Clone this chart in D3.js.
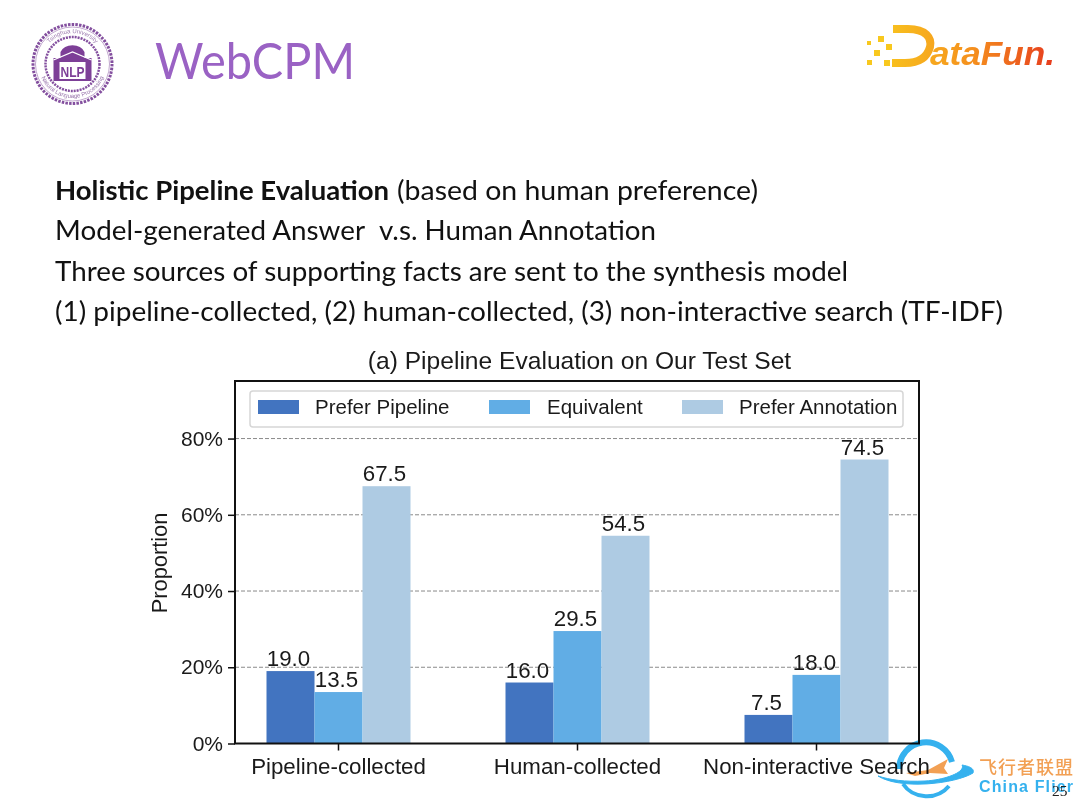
<!DOCTYPE html>
<html><head><meta charset="utf-8">
<script src="https://cdn.jsdelivr.net/npm/d3@7"></script>
<style>html,body{margin:0;padding:0;background:#fff}svg{display:block}</style></head>
<body><svg id="c" width="1080" height="810"></svg>
<script>
const categories = ["Pipeline-collected","Human-collected","Non-interactive Search"];
const seriesNames = ["Prefer Pipeline","Equivalent","Prefer Annotation"];
const preferPipeline = [19.0,16.0,7.5];
const equivalent = [13.5,29.5,18.0];
const preferAnnotation = [67.5,54.5,74.5];
const seriesColors = ["#4274c0","#61ade5","#aecbe3"];
const yTicks = [0,20,40,60,80];
const bodyRuns = [
 {text:"Holistic Pipeline Evaluation",bold:true,x:55,w:334,line:0},
 {text:"(based on human preference)",bold:false,x:397,w:361,line:0},
 {text:"Model-generated Answer",bold:false,x:55,w:310,line:1},
 {text:"v.s. Human Annotation",bold:false,x:379,w:277,line:1},
 {text:"Three sources of supporting facts are sent to the synthesis model",bold:false,x:55,w:793,line:2},
 {text:"(1) pipeline-collected, (2) human-collected, (3) non-interactive search (TF-IDF)",bold:false,x:55,w:948,line:3}
];
const allSeries = [preferPipeline,equivalent,preferAnnotation];
const svg = d3.select("#c");
const AR = "'Liberation Sans',Arial,sans-serif", OS = "Lato,'Open Sans',sans-serif";

// header
svg.append("text").attr("x",155).attr("y",79).attr("font-family",OS).attr("font-size",51).attr("fill","#9a62c4").attr("textLength",200).attr("lengthAdjust","spacingAndGlyphs").text("WebCPM");
// seal
const seal = svg.append("g").attr("transform","translate(72.5,64)").attr("fill","none").attr("stroke","#84509f");
seal.append("circle").attr("r",39.5).attr("stroke-width",3).attr("stroke-dasharray","2.5 1.2");
seal.append("circle").attr("r",27).attr("stroke-width",2.5).attr("stroke-dasharray","2 1");
seal.append("circle").attr("r",37).attr("stroke-width",.5);
const defs=svg.append("defs");
defs.append("path").attr("id","arcTop").attr("d","M-31,0A31,31 0 0 1 31,0");
defs.append("path").attr("id","arcBot").attr("d","M-34,0A34,34 0 0 0 34,0");
seal.append("text").attr("font-family",AR).attr("font-size",6).attr("fill","#9a78ad").attr("stroke","none").attr("text-anchor","middle").append("textPath").attr("href","#arcTop").attr("startOffset","50%").text("Tsinghua University");
seal.append("text").attr("font-family",AR).attr("font-size",6).attr("fill","#9a78ad").attr("stroke","none").attr("text-anchor","middle").append("textPath").attr("href","#arcBot").attr("startOffset","50%").text("Natural Language Processing");
seal.append("path").attr("d","M-12,-12A13,11 0 0 1 12,-12L12,-6L19,-6L19,17L-19,17L-19,-6L-12,-6Z").attr("fill","#7d3f97").attr("stroke","none");
seal.append("rect").attr("x",-13).attr("y",-2).attr("width",26).attr("height",17).attr("fill","#fff").attr("stroke","none");
seal.append("text").attr("y",13).attr("text-anchor","middle").attr("font-family",AR).attr("font-weight",700).attr("font-size",15).attr("fill","#7d3f97").attr("stroke","none").attr("textLength",24).attr("lengthAdjust","spacingAndGlyphs").text("NLP");
seal.append("path").attr("d","M-19,-4L0,-12L19,-4").attr("stroke","#fff").attr("stroke-width",1.2);

// DataFun logo
const df = defs.append("linearGradient").attr("id","dfg").attr("gradientUnits","userSpaceOnUse").attr("x1",890).attr("x2",1055).attr("y1",0).attr("y2",0);
[["0%","#f8c01e"],["50%","#f5901e"],["100%","#e63a1e"]].forEach(s=>df.append("stop").attr("offset",s[0]).attr("stop-color",s[1]));
svg.append("path").attr("d","M893,29L908,29C926,29 932,38 930,47C927,58 918,63 905,63L892,63").attr("fill","none").attr("stroke","url(#dfg)").attr("stroke-width",8);
svg.append("text").attr("x",930).attr("y",65).attr("font-family",AR).attr("font-weight",700).attr("font-style","italic").attr("font-size",34).attr("fill","url(#dfg)").attr("textLength",125).attr("lengthAdjust","spacingAndGlyphs").text("ataFun.");
svg.append("g").attr("fill","#f8c81e").selectAll("rect").data([[867,41,4],[878,36,6],[886,44,6],[874,50,6],[867,60,5],[884,60,6]]).join("rect")
 .attr("x",d=>d[0]).attr("y",d=>d[1]).attr("width",d=>d[2]).attr("height",d=>d[2]);

// body text
const baselines=[200,240,281,321];
svg.append("g").selectAll("text").data(bodyRuns).join("text").attr("x",d=>d.x).attr("y",d=>baselines[d.line]).attr("font-family",OS).attr("font-size",27).attr("fill","#111").attr("font-weight",d=>d.bold?700:400).attr("textLength",d=>d.w).attr("lengthAdjust","spacingAndGlyphs").text(d=>d.text);

// chart
const L=235,R=919,T=381,B=743.5;
const y=d3.scaleLinear().domain([0,95.1]).range([B,T]);
const x0=d3.scaleBand().domain(categories).range([219,936]).paddingInner(.3975).paddingOuter(.19875);
const x1=d3.scaleBand().domain(seriesNames).range([0,x0.bandwidth()]);
svg.append("text").attr("x",579.5).attr("y",369).attr("text-anchor","middle").attr("font-family",AR).attr("font-size",24.6).attr("fill","#1a1a1a").text("(a) Pipeline Evaluation on Our Test Set");
svg.append("g").selectAll("line").data(yTicks.slice(1)).join("line").attr("x1",L).attr("x2",R).attr("y1",d=>y(d)).attr("y2",d=>y(d)).attr("stroke","#8a8a8a").attr("stroke-width",1).attr("stroke-dasharray","4 2");
seriesNames.forEach((s,i)=>{
 const g=svg.append("g");
 const rows=categories.map((c,j)=>({c,v:allSeries[i][j]}));
 g.selectAll("rect").data(rows).join("rect").attr("x",d=>x0(d.c)+x1(s)).attr("width",x1.bandwidth()).attr("y",d=>y(d.v)).attr("height",d=>B-y(d.v)).attr("fill",seriesColors[i]);
 g.selectAll("text").data(rows).join("text").attr("x",d=>x0(d.c)+x1(s)+x1.bandwidth()/2-2).attr("y",d=>y(d.v)-5).attr("text-anchor","middle").attr("font-family",AR).attr("font-size",22.3).attr("fill","#1a1a1a").text(d=>d.v.toFixed(1));
});
svg.append("rect").attr("x",L).attr("y",T).attr("width",R-L).attr("height",B-T).attr("fill","none").attr("stroke","#111").attr("stroke-width",2);
const ax=svg.append("g").attr("transform",`translate(${L},0)`).call(d3.axisLeft(y).tickValues(yTicks).tickFormat(d=>d+"%").tickSize(7).tickPadding(5));
ax.select(".domain").remove();
ax.selectAll("line").attr("stroke","#111").attr("stroke-width",1.5);
ax.selectAll("text").attr("font-family",AR).attr("font-size",21).attr("fill","#1a1a1a");
const bx=svg.append("g").attr("transform",`translate(0,${B})`).call(d3.axisBottom(x0).tickSize(7).tickPadding(8));
bx.select(".domain").remove();
bx.selectAll("line").attr("stroke","#111").attr("stroke-width",1.5);
bx.selectAll("text").attr("font-family",AR).attr("font-size",22.3).attr("fill","#1a1a1a");
svg.append("text").attr("transform","translate(167,563) rotate(-90)").attr("text-anchor","middle").attr("font-family",AR).attr("font-size",21.8).attr("fill","#1a1a1a").text("Proportion");

// legend
svg.append("rect").attr("x",250).attr("y",391).attr("width",653).attr("height",36).attr("rx",3).attr("fill","#fff").attr("stroke","#d6d6d6").attr("stroke-width",1.5);
const legX=[258,489,682], legT=[315,547,739];
seriesNames.forEach((s,i)=>{
 svg.append("rect").attr("x",legX[i]).attr("y",400).attr("width",41).attr("height",14).attr("fill",seriesColors[i]);
 svg.append("text").attr("x",legT[i]).attr("y",414).attr("font-family",AR).attr("font-size",20.5).attr("fill","#1a1a1a").text(s);
});

// China Flier watermark
const wm=svg.append("g").style("mix-blend-mode","multiply");
const wr=wm.append("g").attr("fill","none").attr("stroke","#35b1ee");
wr.append("path").attr("d","M899,769A27,27 0 0 1 952,762").attr("stroke-width",6);
wr.append("path").attr("d","M903,784A28,26 0 0 0 949,786").attr("stroke-width",4);
wr.append("path").attr("d","M878,776C900,790 955,784 973,773C975,768 968,766 962,765C966,772 945,780 925,781C905,782 890,780 878,776Z").attr("fill","#35b1ee").attr("stroke-width",1);
wm.append("path").attr("d","M906,773L928,770L948,759L944,768L948,774L930,773L915,776Z").attr("fill","#f2a054");
wm.append("text").attr("x",979).attr("y",774).attr("font-family","'Noto Sans CJK SC'").attr("font-weight",500).attr("font-size",18).attr("fill","#f2a054").attr("textLength",94).text("飞行者联盟");
wm.append("text").attr("x",979).attr("y",792).attr("font-family",AR).attr("font-weight",700).attr("font-size",16).attr("fill","#35b1ee").attr("textLength",94).text("China Flier");
svg.append("text").attr("x",1052).attr("y",796).attr("font-family","'Liberation Serif',serif").attr("font-size",15.5).attr("fill","#222").text("25");
</script></body></html>
